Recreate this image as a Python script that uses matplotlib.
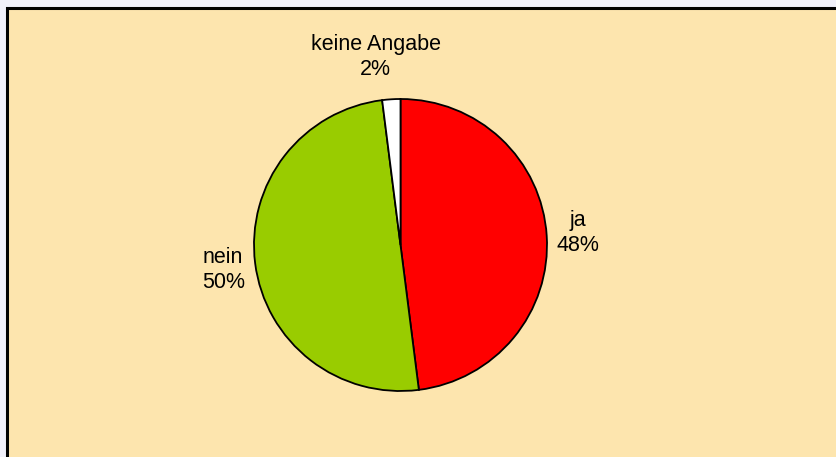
import matplotlib.pyplot as plt
from matplotlib.patches import Rectangle

# data
labels = ["ja", "nein", "keine Angabe"]
shares = [48, 50, 2]
colors = ["#FF0000", "#99CC00", "#FFFFFF"]
label_pos = [(1.21, 0.08), (-1.21, -0.17), (-0.17, 1.29)]

W, H = 837, 457

fig = plt.figure(figsize=(W / 100, H / 100), dpi=100, facecolor="#F0F0FA")

# beige panel with black frame (kept behind the axes)
panel = Rectangle((7 / W, -0.1), 1.2, 1.1 - 8 / H, transform=fig.transFigure,
                  facecolor="#FDE5AE", edgecolor="black", linewidth=2.2, zorder=-10)
fig.patches.append(panel)

# pie area: circle box in pixels x 254..547, y 99..391 (from top)
ax = fig.add_axes([254 / W, (H - 391) / H, 293 / W, 292 / H])
ax.set_zorder(5)
ax.set_axis_off()
ax.pie(shares, colors=colors, startangle=90, counterclock=False, radius=1,
       wedgeprops=dict(edgecolor="black", linewidth=1.3))
ax.set_xlim(-1, 1)
ax.set_ylim(-1, 1)
ax.set_aspect("auto")

for lab, val, (x, y) in zip(labels, shares, label_pos):
    ax.text(x, y, f"{lab}\n{val}%", ha="center", va="center", fontsize=15.5,
            family="Liberation Sans", linespacing=1.25, clip_on=False)

plt.savefig("out.png", dpi=100, facecolor=fig.get_facecolor())
plt.close()
